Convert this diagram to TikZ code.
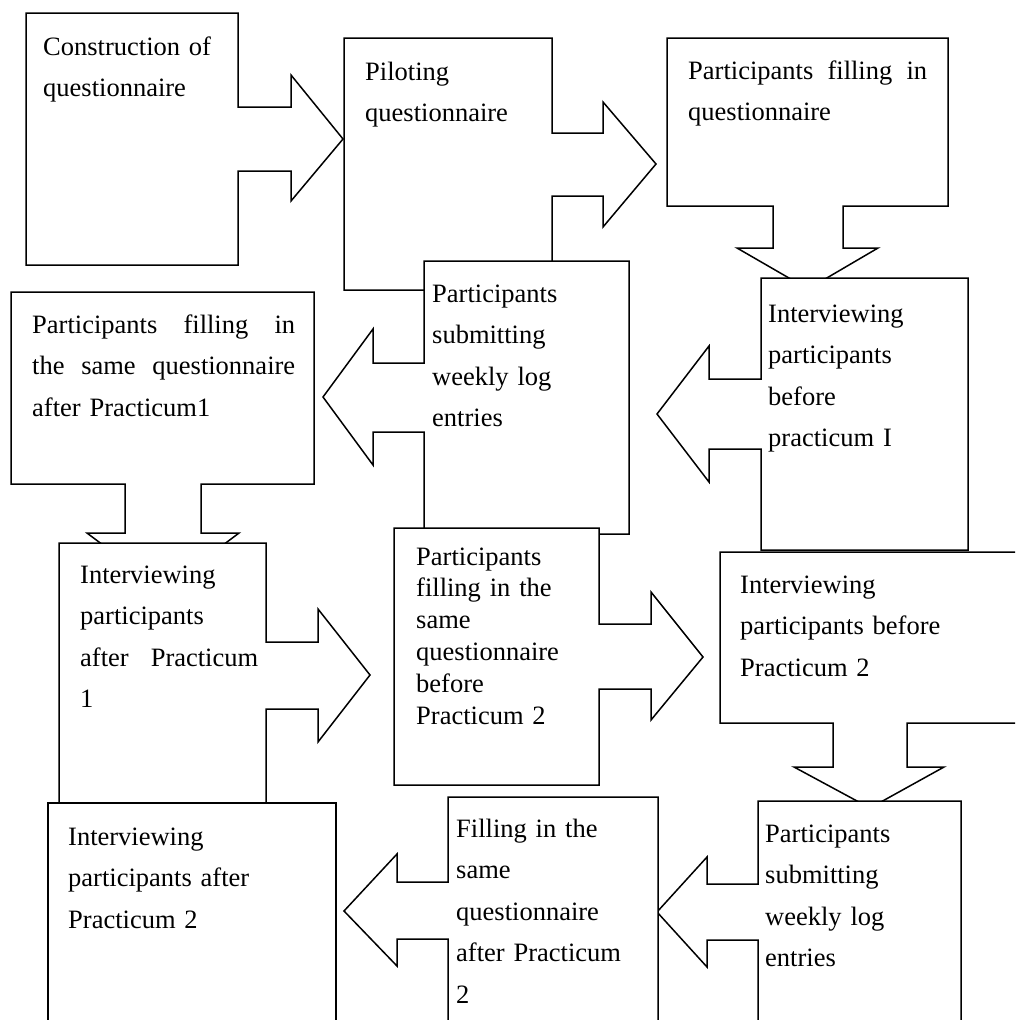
\documentclass[tikz,border=0pt]{standalone}
\usepackage{fontspec}
\setmainfont{Liberation Serif}
\begin{document}
\begin{tikzpicture}[x=1pt,y=-1pt,
  callout/.style={draw=black, fill=white, line width=1.5pt, line join=miter},
  txt/.style={anchor=base west, inner sep=0pt, align=left, text width=330pt,
    font=\fontsize{26.5}{41.5}\selectfont},
  tight/.style={font=\fontsize{26.5}{31.8}\selectfont}]
\useasboundingbox (0,0) rectangle (1015,1020);
\clip (0,0) rectangle (1015,1020);

% 1 Construction of questionnaire (right arrow)
\draw[callout] (26,13) -- (238,13) -- (238,107) -- (291,107) -- (291,75) -- (343,139)
  -- (291,201) -- (291,171) -- (238,171) -- (238,265) -- (26,265) -- cycle;
\node[txt] (t1) at (43,55) {Construction of\\questionnaire};

% 2 Piloting questionnaire (right arrow)
\draw[callout] (344,38) -- (552,38) -- (552,133) -- (603,133) -- (603,102) -- (656,164)
  -- (603,227) -- (603,196) -- (552,196) -- (552,290) -- (344,290) -- cycle;
\node[txt] (t2) at (365,80) {Piloting\\questionnaire};

% 3 Participants filling in questionnaire (down arrow)
\draw[callout] (667,38) -- (948,38) -- (948,206) -- (843,206) -- (843,248) -- (878,248)
  -- (808,289) -- (737,248) -- (773,248) -- (773,206) -- (667,206) -- cycle;
\node[txt, text width=239pt] (t3) at (688,79) {Participants\hfill filling\hfill in\\questionnaire};

% 4 Interviewing participants before practicum I (left arrow)
\draw[callout] (761,278) -- (968,278) -- (968,550) -- (761,550) -- (761,449) -- (709,449)
  -- (709,482) -- (657,414) -- (709,346) -- (709,379) -- (761,379) -- cycle;
\node[txt] (t4) at (768,322) {Interviewing\\participants\\before\\practicum I};

% 5 Participants submitting weekly log entries (left arrow)
\draw[callout] (424,261) -- (629,261) -- (629,534) -- (424,534) -- (424,432) -- (373,432)
  -- (373,465) -- (323,397) -- (373,329) -- (373,363) -- (424,363) -- cycle;
\node[txt] (t5) at (432,302) {Participants\\submitting\\weekly log\\entries};

% 6 Participants filling in the same questionnaire after Practicum1 (down arrow)
\draw[callout] (11,292) -- (314,292) -- (314,484) -- (201,484) -- (201,533) -- (239,533)
  -- (163,590) -- (87,533) -- (125,533) -- (125,484) -- (11,484) -- cycle;
\node[txt, text width=263pt] (t6) at (32,333) {Participants\hfill filling\hfill in\\the\hfill same\hfill questionnaire\\after Practicum1};

% 7 Interviewing participants after Practicum 1 (right arrow)
\draw[callout] (59,543) -- (266,543) -- (266,642) -- (318,642) -- (318,609) -- (370,675)
  -- (318,742) -- (318,709) -- (266,709) -- (266,803) -- (59,803) -- cycle;
\node[txt, text width=178pt] (t7) at (80,583) {Interviewing\\participants\\after\hfill Practicum\\1};

% 8 Participants filling in the same questionnaire before Practicum 2 (right arrow)
\draw[callout] (394,528) -- (599,528) -- (599,624) -- (651,624) -- (651,592) -- (703,657)
  -- (651,720) -- (651,689) -- (599,689) -- (599,785) -- (394,785) -- cycle;
\node[txt, tight] (t8) at (416,565) {Participants\\filling in the\\same\\questionnaire\\before\\Practicum 2};

% 9 Interviewing participants before Practicum 2 (down arrow)
\draw[callout] (720,552) -- (1020,552) -- (1020,723) -- (907,723) -- (907,767) -- (944,767)
  -- (870,808) -- (794,767) -- (833,767) -- (833,723) -- (720,723) -- cycle;
\node[txt] (t9) at (740,593) {Interviewing\\participants before\\Practicum 2};

% 10 Participants submitting weekly log entries (left arrow)
\draw[callout] (758,801) -- (961,801) -- (961,1040) -- (758,1040) -- (758,940) -- (707,940)
  -- (707,967) -- (657,912) -- (707,857) -- (707,884) -- (758,884) -- cycle;
\node[txt] (t10) at (765,842) {Participants\\submitting\\weekly log\\entries};

% 11 Filling in the same questionnaire after Practicum 2 (left arrow)
\draw[callout] (448,797) -- (658,797) -- (658,1040) -- (448,1040) -- (448,939) -- (397,939)
  -- (397,966) -- (344,911) -- (397,854) -- (397,882) -- (448,882) -- cycle;
\node[txt] (t11) at (456,837) {Filling in the\\same\\questionnaire\\after Practicum\\2};

% 12 Interviewing participants after Practicum 2
\draw[callout] (48,803) -- (336,803) -- (336,1040) -- (48,1040) -- cycle;
\node[txt] (t12) at (68,845) {Interviewing\\participants after\\Practicum 2};
\end{tikzpicture}
\end{document}
